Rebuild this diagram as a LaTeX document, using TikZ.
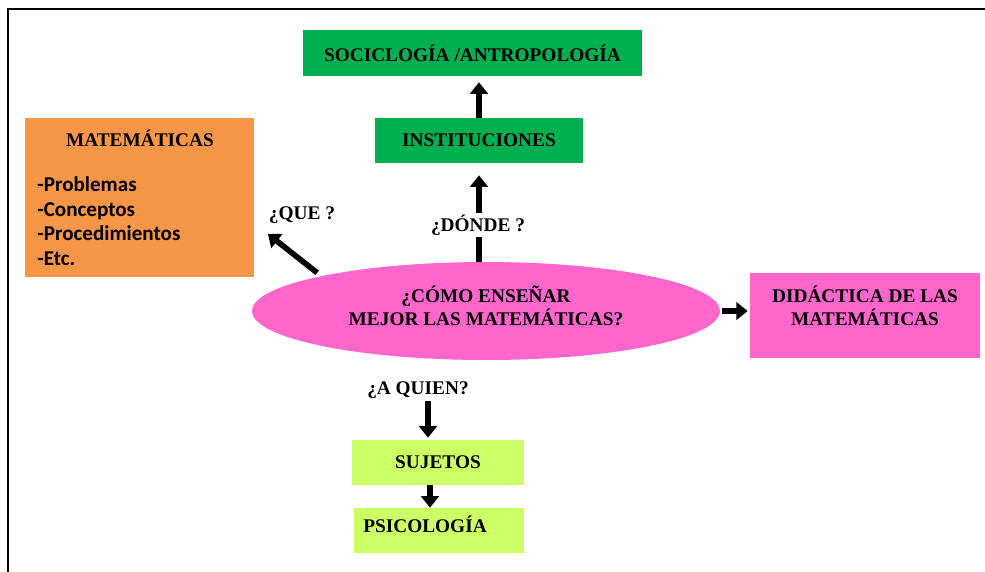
\documentclass[tikz,border=0pt]{standalone}
\usepackage{fontspec}
\setmainfont{Liberation Serif}
\newfontfamily\calibri{Carlito}
\usepackage{tikz}
\usetikzlibrary{positioning,arrows.meta,shapes.geometric}
\definecolor{gverde}{RGB}{0,176,80}
\definecolor{naranja}{RGB}{247,150,70}
\definecolor{rosa}{RGB}{255,102,204}
\definecolor{lima}{RGB}{204,255,102}
\tikzset{
cbox/.style = {rectangle, inner sep=2pt, minimum width=#1},
cbox/.default = 3cm, % width of the box
ttl/.style = {font=\bfseries\fontsize{11}{13}\selectfont, align=center, inner sep=1pt},
lst/.style = {font=\calibri\bfseries\fontsize{12}{14}\selectfont, align=left, inner sep=0pt},
blk/.style = {line width=3.2pt, -{Triangle[width=10pt,length=6.5pt]}}
}
\tikzset{g/.style={fill=gverde}}
\tikzset{o/.style={fill=naranja}}
\tikzset{p/.style={fill=rosa}}
\tikzset{l/.style={fill=lima}}

\begin{document}
\begin{tikzpicture}[x=0.02cm, y=-0.02cm]
      \useasboundingbox (0,0) rectangle (985,572);
      \draw [line width=1.4pt] (8,572) -- (8,9) -- (985,9);
      % boxes
      \node [cbox=6.78cm, g, minimum height=0.92cm, ttl] (soc) at (472.5,53) {SOCICLOGÍA /ANTROPOLOGÍA};
      \node [cbox=4.16cm, g, minimum height=0.9cm, ttl] (inst) at (479,140.5) {INSTITUCIONES};
      \node [cbox=4.58cm, o, minimum height=3.18cm] (mat) at (139.5,197.5) {};
      \node [ttl] (matt) at (140,138) {MATEMÁTICAS};
      \node [lst, anchor=west] (matl) at (37,221) {-Problemas\\-Conceptos\\-Procedimientos\\-Etc.};
      \node [ellipse, p, minimum width=9.36cm, minimum height=1.96cm] (ell) at (486,311) {};
      \node [ttl] (ellt) at (486,306) {¿CÓMO ENSEÑAR\\MEJOR LAS MATEMÁTICAS?};
      \node [cbox=4.6cm, p, minimum height=1.7cm] (did) at (865,315.5) {};
      \node [ttl] (didt) at (865,306) {DIDÁCTICA DE LAS\\MATEMÁTICAS};
      \node [cbox=3.44cm, l, minimum height=0.9cm, ttl] (suj) at (438,462.5) {SUJETOS};
      \node [cbox=3.4cm, l, minimum height=0.9cm] (psi) at (439,530.5) {};
      \node [ttl] (psit) at (425,524) {PSICOLOGÍA};
      % arrows
      \draw [blk, shorten >=0.12cm] (inst.north) -- (inst.north |- soc.south);
      \draw [blk, shorten >=0.24cm] (inst.south |- ell.north) -- (inst.south);
      \coordinate (qtip) at (268,234);
      \draw [blk, shorten <=0.1cm] (ell.168) -- (qtip);
      \draw [blk, shorten <=0.04cm, shorten >=0.04cm] (ell.east) -- (ell.east -| did.west);
      \node [ttl, fill=white] (dnd) at (478,225) {¿DÓNDE ?};
      \node [ttl] (que) at (302,215) {¿QUE ?};
      \node [ttl] (quien) at (418,390) {¿A QUIEN?};
      \draw [blk, shorten >=0.04cm] ([xshift=0.2cm]quien.south) -- ([xshift=0.2cm]quien.south |- suj.north);
      \draw [blk] (suj.south -| 430,0) -- (psi.north -| 430,0);
\end{tikzpicture}
\end{document}
